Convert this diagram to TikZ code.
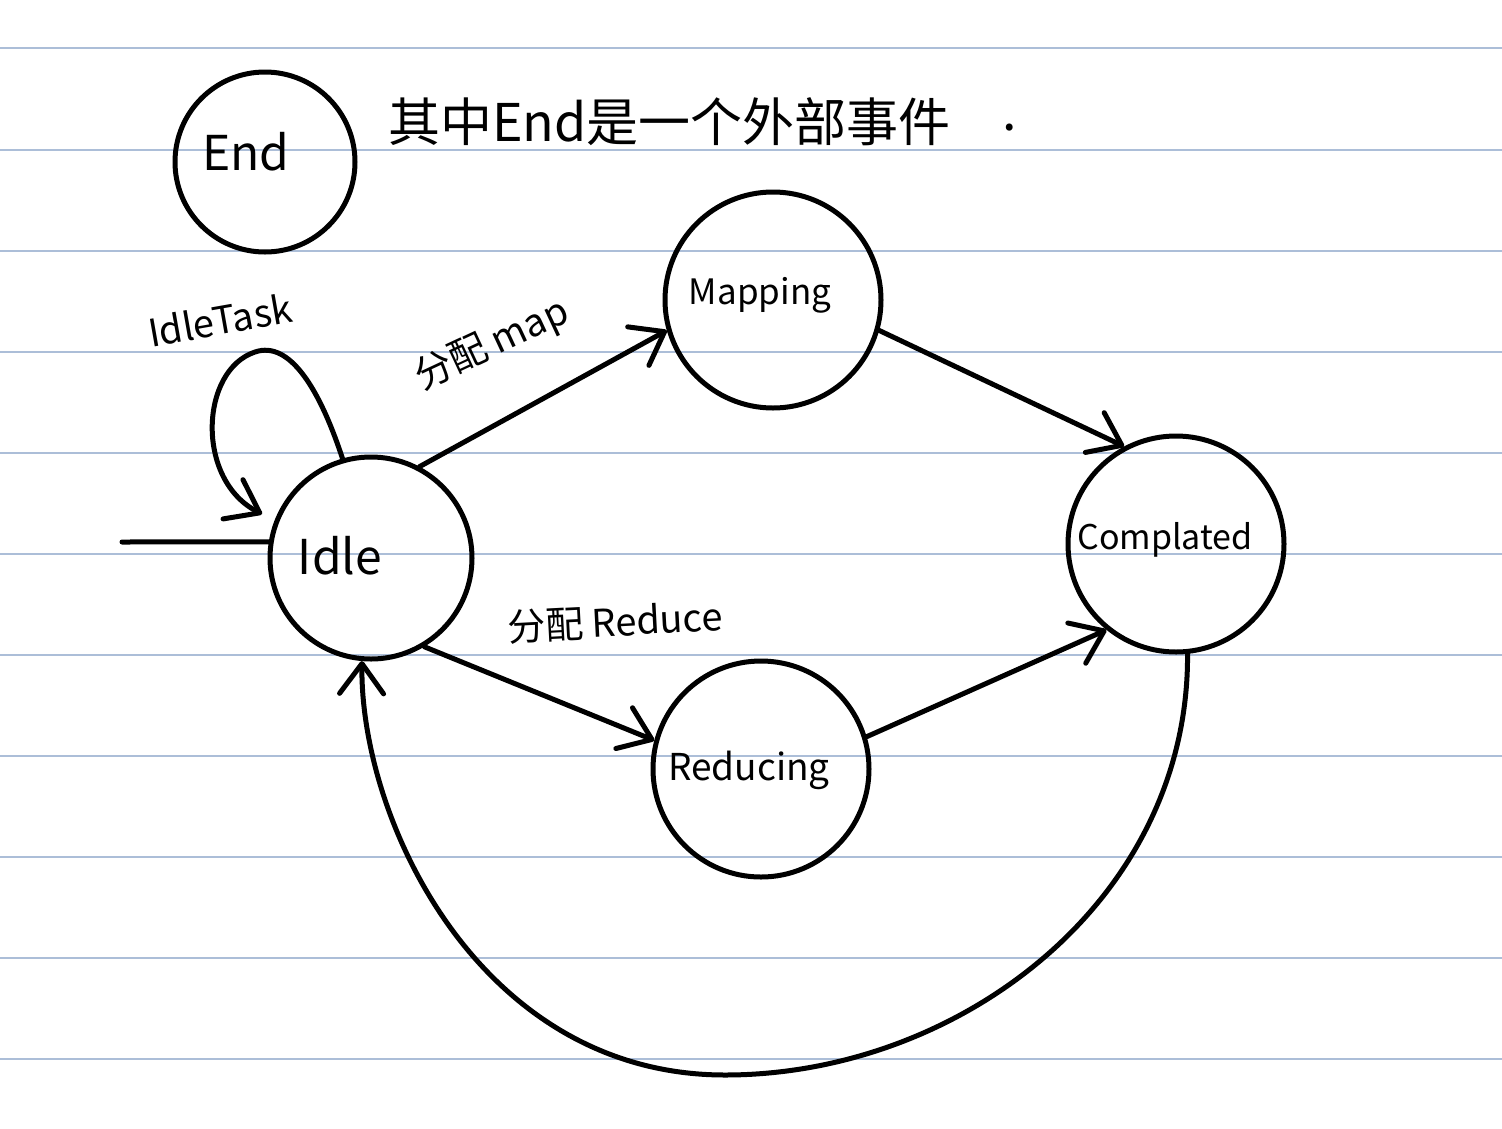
\documentclass[tikz,border=0pt]{standalone}
\usepackage{fontspec}
\setmainfont{Noto Sans CJK SC}
\usetikzlibrary{arrows.meta}
\definecolor{ruleblue}{RGB}{172,190,216}
\tikzset{
  state/.style={circle, draw, line width=5pt, inner sep=0pt},
  lbl/.style={inner sep=0pt, font=\fontsize{38}{40}\selectfont},
  arr/.style={line width=5pt, line cap=round, line join=round,
    -{Straight Barb[length=30pt,width=44pt,line width=5pt,round]}},
  plain/.style={line width=5pt, line cap=round},
  ruled/.style={ruleblue, line width=1.5pt}
}
\begin{document}
\begin{tikzpicture}[x=1pt,y=-1pt]
\fill[white] (0,0) rectangle (1502,1128);
\useasboundingbox (0,0) rectangle (1502,1128);
% ruled lines
\foreach \yy in {48,150,251,352,453,554,655,756,857,958,1059}
  \draw[ruled] (0,\yy) -- (1502,\yy);

% states
\node[state, minimum size=180pt] (End) at (265,162) {};
\node[state, minimum size=216pt] (Mapping) at (773,300) {};
\node[state, minimum size=202pt] (Idle) at (371,558) {};
\node[state, minimum size=216pt] (Completed) at (1176,544) {};
\node[state, minimum size=216pt] (Reducing) at (761,769) {};

% state texts
\node[lbl, font=\fontsize{48}{50}\selectfont] (endtxt) at (246,152) {End};
\node[lbl, font=\fontsize{48}{50}\selectfont] (idletxt) at (340,556) {Idle};
\node[lbl, font=\fontsize{35}{37}\selectfont] (maptxt) at (760,295) {Mapping};
\node[lbl, font=\fontsize{34}{36}\selectfont] (comptxt) at (1165,540) {Complated};
\node[lbl, font=\fontsize{37}{39}\selectfont] (redtxt) at (749,770) {Reducing};

% title
\node[lbl, anchor=west, font=\fontsize{52}{54}\selectfont] (title) at (388,122) {其中End是一个外部事件};
\node[lbl, font=\fontsize{52}{54}\selectfont] (dot) at (1010,128) {.};

% start line
\coordinate (start) at (122,542);
\draw[plain] (start) -- (Idle.171);

% self loop
\coordinate (looptop) at (255,352);
\coordinate (looptip) at (262,514);
\draw[arr] (Idle.106) .. controls (320,390) and (290,340) .. (looptop)
  .. controls (200,370) and (195,480) .. (looptip);
\node[lbl, rotate=10, font=\fontsize{38}{40}\selectfont] (looplbl) at (220,320) {IdleTask};

% transitions
\draw[arr] (Idle.62) -- (Mapping.196);
\node[lbl, rotate=25] (maplbl) at (492,345) {分配 map};
\draw[arr] (Mapping.-16) -- (Completed.118);
\draw[arr] (Idle.-59) -- (Reducing.165);
\node[lbl, rotate=3] (redlbl) at (615,622) {分配 Reduce};
\draw[arr] (Reducing.17) -- (Completed.231);

% return arc
\coordinate (arcbot) at (725,1075);
\draw[arr] (Completed.-84) .. controls (1189,900) and (960,1075) .. (arcbot)
  .. controls (480,1075) and (360,820) .. (Idle.-95);
\end{tikzpicture}
\end{document}
